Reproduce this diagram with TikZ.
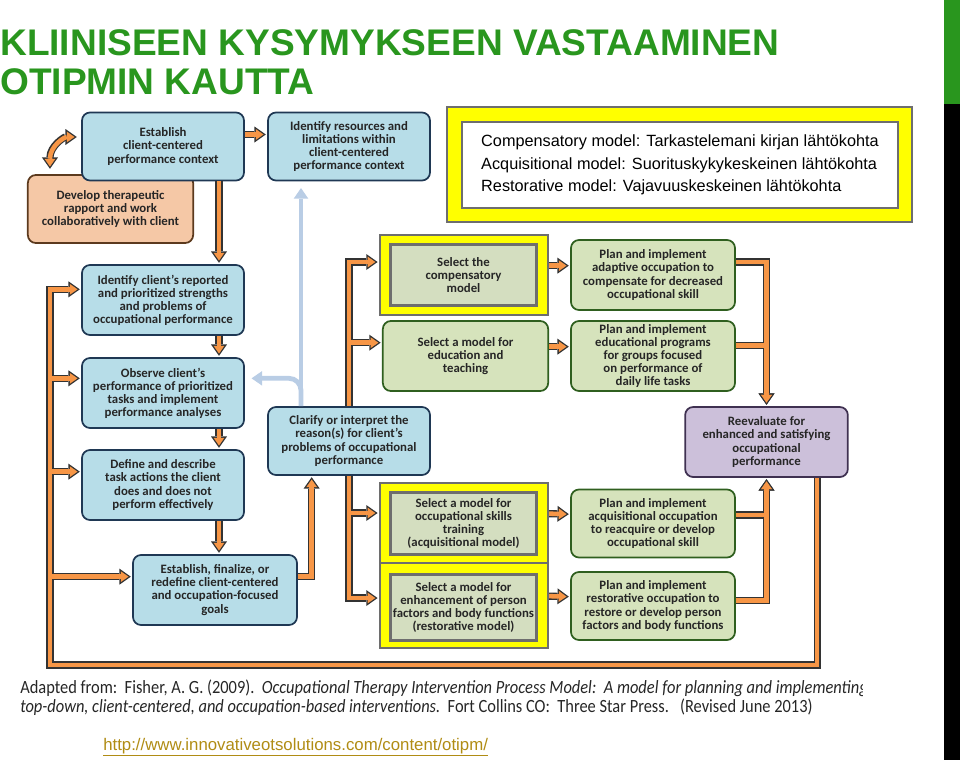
\documentclass[tikz,border=0pt]{standalone}
\usepackage{fontspec}
\usepackage{tikz}
\usetikzlibrary{arrows.meta,calc}
\newfontfamily\boxfont{Carlito}
\newfontfamily\titlefont{Liberation Sans}
\newfontfamily\notefont{Liberation Sans}
\newfontfamily\citefont[FakeStretch=0.88]{Carlito}
\definecolor{titlegreen}{RGB}{41,150,30}
\definecolor{bluefill}{RGB}{183,221,232}
\definecolor{bluedraw}{RGB}{31,56,84}
\definecolor{peachfill}{RGB}{245,200,166}
\definecolor{peachdraw}{RGB}{92,58,30}
\definecolor{greenfill}{RGB}{214,227,188}
\definecolor{greendraw}{RGB}{47,95,31}
\definecolor{selfill}{RGB}{212,222,192}
\definecolor{purplefill}{RGB}{204,192,218}
\definecolor{purpledraw}{RGB}{63,49,81}
\definecolor{hiliteyellow}{RGB}{255,255,0}
\definecolor{framegray}{RGB}{110,110,110}
\definecolor{floworange}{RGB}{247,150,70}
\definecolor{linkblue}{RGB}{185,205,229}
\definecolor{urlgold}{RGB}{176,140,20}
\tikzset{
  otbox/.style={rounded corners=6pt, line width=1.3pt, align=center, inner sep=2pt, minimum width=121.5pt, minimum height=51pt, text=black!85, font=\boxfont\bfseries\fontsize{9.6}{9.8}\selectfont},
  bluebox/.style={otbox, fill=bluefill, draw=bluedraw},
  peachbox/.style={otbox, fill=peachfill, draw=peachdraw},
  greenbox/.style={otbox, fill=greenfill, draw=greendraw},
  purplebox/.style={otbox, fill=purplefill, draw=purpledraw},
  hilite/.style={rectangle, fill=hiliteyellow, draw=framegray, line width=1.6pt, inner sep=0pt, minimum width=126pt, minimum height=60pt},
  selbox/.style={otbox, sharp corners, fill=selfill, draw=framegray, line width=2.2pt, minimum width=110pt, minimum height=46pt},
  notebox/.style={rectangle, fill=white, draw=framegray, line width=2pt, inner sep=0pt, minimum width=327pt, minimum height=64.5pt, align=left, font=\notefont\fontsize{12.2}{17}\selectfont},
  titletext/.style={anchor=base west, inner sep=0pt, text=titlegreen, font=\titlefont\bfseries\fontsize{27.8}{29}\selectfont},
  citetext/.style={anchor=base west, inner sep=0pt, text=black!85, font=\citefont\fontsize{14}{15}\selectfont},
  urltext/.style={anchor=base west, inner sep=0pt, text=urlgold, font=\notefont\fontsize{12.6}{14}\selectfont},
  bluelink/.style={draw=linkblue, line width=3.6pt, shorten >=5pt, -{Triangle[length=8pt,width=11pt,line width=0pt]}},
  outer pass/.style={
    flow/.style={draw=black!80, line width=5.4pt, shorten >=1pt, -{Triangle[length=8.5pt,width=12pt,line width=0pt]}},
    flowboth/.style={flow, shorten <=1pt, {Triangle[length=8.5pt,width=12pt,line width=0pt]}-{Triangle[length=8.5pt,width=12pt,line width=0pt]}}},
  inner pass/.style={
    flow/.style={draw=floworange, line width=3.4pt, shorten >=2.7pt, -{Triangle[length=5.8pt,width=8.1pt,line width=0pt]}},
    flowboth/.style={flow, shorten <=2.7pt, {Triangle[length=5.8pt,width=8.1pt,line width=0pt]}-{Triangle[length=5.8pt,width=8.1pt,line width=0pt]}}},
}
\newcommand{\otipmlinks}{%
\draw[flowboth] ($(develop.north west)+(23,-4)$) .. controls +(0,-24) and +(-14,0) .. ($(estctx.west)+(-3,-9.5)$);
\draw[flow] ([yshift=9pt]estctx.east) -- ([yshift=9pt]idres.west);
\draw[flow] ([xshift=42pt]estctx.south) -- ([xshift=42pt]idcli.north);
\draw[flow] ([xshift=42pt]idcli.south) -- ([xshift=42pt]observe.north);
\draw[flow] ([xshift=42pt]observe.south) -- ([xshift=42pt]define.north);
\draw[flow] ([xshift=42pt]define.south) -- ([xshift=42pt]define.south |- estgoal.north);
\draw[flow] ([yshift=10pt]estgoal.east) -| ([xshift=-28pt]clarify.south);
\draw[flow] (clarify.north) |- ([yshift=9.75pt]compY.west);
\draw[flow] (clarify.north) |- ([yshift=10pt]edu.west);
\draw[flow] (clarify.south) |- ([yshift=7.5pt]acqY.west);
\draw[flow] (clarify.south) |- ([yshift=5.6pt]restY.west);
\draw[flow] ([yshift=7pt]compY.east) -- ([yshift=7pt]adapt.west);
\draw[flow] ([yshift=7pt]edu.east) -- ([yshift=7pt]educ.west);
\draw[flow] ([yshift=7pt]acqY.east) -- ([yshift=7pt]acqplan.west);
\draw[flow] ([yshift=7pt]restY.east) -- ([yshift=7pt]restplan.west);
\draw[flow] ([yshift=9.75pt]adapt.east) -| (reeval.north);
\draw[flow] ([yshift=8pt]educ.east) -| (reeval.north);
\draw[flow] ([yshift=6.4pt]acqplan.east) -| (reeval.south);
\draw[flow] ([yshift=4pt]restplan.east) -| (reeval.south);
\draw[flow] ([xshift=38pt]reeval.south) |- (loopcorner) |- ([yshift=8pt]idcli.west);
\draw[flow] (loopcorner) |- ([yshift=11pt]observe.west);
\draw[flow] (loopcorner) |- ([yshift=10pt]define.west);
\draw[flow] (loopcorner) |- ([yshift=10pt]estgoal.west);
}

\begin{document}
\begin{tikzpicture}[x=0.75pt, y=-0.75pt]
\useasboundingbox (0,0) rectangle (960,760);
\fill[titlegreen] (944,0) rectangle (960,104);
\fill[black] (944,104) rectangle (960,760);
\node[titletext] (title1) at (0,55) {KLIINISEEN KYSYMYKSEEN VASTAAMINEN};
\node[titletext] (title2) at (0,94) {OTIPMIN KAUTTA};

\node[hilite, minimum width=349pt, minimum height=86pt] (noteY) at (679.5,164.5) {};
\node[notebox] (notes) at (680,165) {Compensatory model: Tarkastelemani kirjan lähtökohta\\Acquisitional model: Suorituskykykeskeinen lähtökohta\\Restorative model: Vajavuuskeskeinen lähtökohta};

\node[peachbox, minimum width=124pt] (develop) at (110.5,209) {Develop therapeutic\\rapport and work\\collaboratively with client};
\node[bluebox] (estctx) at (163,146.5) {Establish\\client-centered\\performance context};
\node[bluebox] (idres) at (349,146.5) {Identify resources and\\limitations within\\client-centered\\performance context};
\node[bluebox, minimum height=52.5pt] (idcli) at (163,300) {Identify client’s reported\\and prioritized strengths\\and problems of\\occupational performance};
\node[bluebox, minimum height=52.5pt] (observe) at (163,393) {Observe client’s\\performance of prioritized\\tasks and implement\\performance analyses};
\node[bluebox, minimum height=52.5pt] (define) at (163,485) {Define and describe\\task actions the client\\does and does not\\perform effectively};
\node[bluebox, minimum width=123pt, minimum height=52.5pt] (estgoal) at (215,590) {Establish, finalize, or\\redefine client-centered\\and occupation-focused\\goals};
\node[bluebox] (clarify) at (349,441) {Clarify or interpret the\\reason(s) for client’s\\problems of occupational\\performance};

\node[hilite] (compY) at (464,275) {};
\node[selbox] (comp) at (463.5,275) {Select the\\compensatory\\model};
\node[greenbox, minimum width=124pt, minimum height=52.5pt] (edu) at (465.5,356) {Select a model for\\education and\\teaching};
\node[hilite] (acqY) at (464,523) {};
\node[selbox, minimum height=47pt] (acq) at (463.5,523.5) {Select a model for\\occupational skills\\training\\(acquisitional model)};
\node[hilite, minimum height=64pt] (restY) at (464,605.5) {};
\node[selbox, minimum height=49pt] (rest) at (463.5,607.5) {Select a model for\\enhancement of person\\factors and body functions\\(restorative model)};

\node[greenbox, minimum width=123pt, minimum height=52.5pt] (adapt) at (653,275) {Plan and implement\\adaptive occupation to\\compensate for decreased\\occupational skill};
\node[greenbox, minimum width=123pt, minimum height=52.5pt] (educ) at (653,356) {Plan and implement\\educational programs\\for groups focused\\on performance of\\daily life tasks};
\node[greenbox, minimum width=123pt] (acqplan) at (653,523.5) {Plan and implement\\acquisitional occupation\\to reacquire or develop\\occupational skill};
\node[greenbox, minimum width=123pt] (restplan) at (653,606) {Plan and implement\\restorative occupation to\\restore or develop person\\factors and body functions};
\node[purplebox, minimum width=122pt, minimum height=52.5pt] (reeval) at (766.5,442) {Reevaluate for\\enhanced and satisfying\\occupational\\performance};

\coordinate (loopcorner) at (50,665);
\draw[bluelink] ([xshift=-36pt]clarify.north) -- ([xshift=-36pt]idres.south);
\draw[bluelink, rounded corners=9pt] ([xshift=-36pt]clarify.north) |- ([yshift=11pt]observe.east);
\begin{scope}[outer pass]
\otipmlinks
\end{scope}
\begin{scope}[inner pass]
\otipmlinks
\end{scope}

\begin{scope}
\clip (0,670) rectangle (862,725);
\node[citetext] (cite1) at (20,693) {Adapted from:\ \ Fisher, A. G. (2009).\ \ \textit{Occupational Therapy Intervention Process Model:\ \ A model for planning and implementing}};
\end{scope}
\node[citetext] (cite2) at (20,712) {\textit{top-down, client-centered, and occupation-based interventions.}\ \ Fort Collins CO:\ \ Three Star Press.\ \ \ (Revised June 2013)};
\node[urltext] (url) at (103,750) {\underline{http://www.innovativeotsolutions.com/content/otipm/}};
\end{tikzpicture}
\end{document}
